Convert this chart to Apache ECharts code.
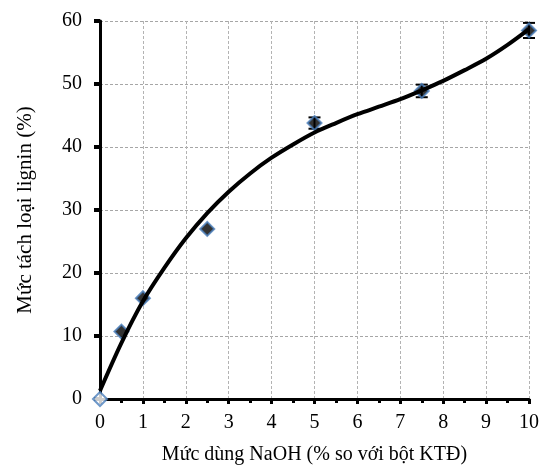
<!DOCTYPE html>
<html>
<head>
<meta charset="utf-8">
<script src="https://cdn.jsdelivr.net/npm/echarts@6/dist/echarts.min.js"></script>
<style>html,body{margin:0;padding:0;background:#fff;}#c{width:542px;height:470px;}</style>
</head>
<body>
<div id="c"></div>
<script>
// Measured points
var xValues = [0, 0.5, 1, 2.5, 5, 7.5, 10];
var yValues = [0, 10.7, 16, 27, 43.8, 48.9, 58.5];
var yErrors = [0, 0, 0, 0, 0.9, 1.0, 1.2];
// Trend curve
var curveX = [0, 0.5, 1, 1.5, 2, 2.5, 3, 3.5, 4, 4.5, 5, 5.5, 6, 6.5, 7, 7.5, 8, 8.5, 9, 9.5, 10];
var curveY = [1.3, 8.9, 15.5, 20.8, 25.5, 29.5, 32.9, 35.8, 38.3, 40.4, 42.3, 43.8, 45.2, 46.4, 47.6, 49.0, 50.5, 52.2, 54.0, 56.2, 58.7];
var xTicks = [0, 1, 2, 3, 4, 5, 6, 7, 8, 9, 10];
var yTicks = [0, 10, 20, 30, 40, 50, 60];

var font = '"Liberation Serif", "Times New Roman", serif';
var pts = xValues.map(function (x, i) { return [x, yValues[i]]; });
var errs = xValues.map(function (x, i) { return [x, yValues[i] - yErrors[i], yValues[i] + yErrors[i]]; });
var curve = curveX.map(function (x, i) { return [x, curveY[i]]; });

var chart = echarts.init(document.getElementById('c'), null, {renderer: 'canvas'});
chart.setOption({
  animation: false,
  backgroundColor: '#fff',
  grid: {left: 100, right: 9, top: 21, bottom: 67, containLabel: false},
  xAxis: {
    type: 'value', min: xTicks[0], max: xTicks[xTicks.length - 1], interval: 1,
    name: 'Mức dùng NaOH (% so với bột KTĐ)', nameLocation: 'middle', nameGap: 46,
    nameTextStyle: {fontFamily: font, fontSize: 20, color: '#000'},
    axisLine: {show: true, onZero: false, lineStyle: {color: '#000', width: 3}},
    axisTick: {show: true, inside: false, length: 5, lineStyle: {color: '#000', width: 3}},
    minorTick: {show: true, splitNumber: 2, length: 4, lineStyle: {color: '#000', width: 3}},
    axisLabel: {fontFamily: font, fontSize: 20, color: '#000', margin: 14},
    splitLine: {show: true, lineStyle: {color: '#b3b3b3', type: [3, 2], width: 1}}
  },
  yAxis: {
    type: 'value', min: yTicks[0], max: yTicks[yTicks.length - 1], interval: 10,
    name: 'Mức tách loại lignin (%)', nameLocation: 'middle', nameGap: 64,
    nameTextStyle: {fontFamily: font, fontSize: 21, color: '#000'},
    axisLine: {show: true, onZero: false, lineStyle: {color: '#000', width: 3}},
    axisTick: {show: true, inside: false, length: 6, lineStyle: {color: '#000', width: 4}},
    axisLabel: {fontFamily: font, fontSize: 20, color: '#000', margin: 18},
    splitLine: {show: true, lineStyle: {color: '#a6a6a6', type: [3, 2], width: 1}}
  },
  series: [
    {
      type: 'custom', z: 3,
      data: errs,
      renderItem: function (params, api) {
        var x = api.value(0), lo = api.value(1), hi = api.value(2);
        if (hi - lo < 0.01) return null;
        var pLo = api.coord([x, lo]), pHi = api.coord([x, hi]);
        var w = 6;
        var st = {stroke: '#000', lineWidth: 2};
        return {type: 'group', children: [
          {type: 'line', shape: {x1: pLo[0], y1: pLo[1], x2: pHi[0], y2: pHi[1]}, style: st},
          {type: 'line', shape: {x1: pLo[0] - w, y1: pLo[1], x2: pLo[0] + w, y2: pLo[1]}, style: st},
          {type: 'line', shape: {x1: pHi[0] - w, y1: pHi[1], x2: pHi[0] + w, y2: pHi[1]}, style: st}
        ]};
      }
    },
    {
      type: 'scatter', z: 4,
      symbol: 'diamond', symbolSize: 14,
      data: pts.map(function (p, i) {
        return {value: p, itemStyle: {color: i === 0 ? '#fff' : '#000'}};
      }),
      itemStyle: {borderColor: '#4a7ebb', borderWidth: 2}
    },
    {
      type: 'line', z: 5, smooth: 0.3, showSymbol: false, symbol: 'none',
      data: curve,
      lineStyle: {color: '#000', width: 4}
    }
  ]
});
</script>
</body>
</html>
